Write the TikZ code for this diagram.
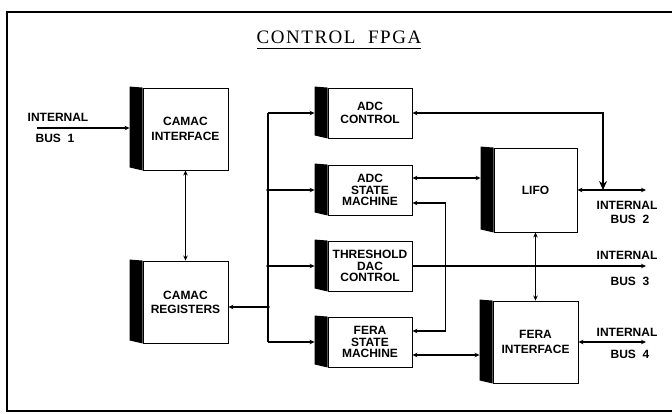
\documentclass[tikz,border=0pt]{standalone}
\usepackage{fontspec}
\setmainfont{Liberation Sans}
\newfontfamily\titlefont[LetterSpace=8]{Liberation Serif}
\usetikzlibrary{arrows.meta,calc}
\begin{document}
\begin{tikzpicture}[x=1pt,y=-1pt,
  blk/.style={draw,line width=0.9pt,fill=white,inner sep=0pt,align=center,
    font=\bfseries\fontsize{12}{14}\selectfont},
  tall/.style={blk,minimum width=85pt,minimum height=82pt},
  flat/.style={blk,minimum width=84pt,minimum height=50pt,font=\bfseries\fontsize{12}{11.5}\selectfont},
  conn/.style={line width=1.2pt},
  lbl/.style={font=\bfseries\fontsize{12}{14}\selectfont,inner sep=0pt},
  >={Stealth[length=5pt,width=4.5pt]}]
\useasboundingbox (0,0) rectangle (672,413);
% frame
\draw[line width=1.2pt] (672,12) -- (7,12) -- (7,411) -- (672,411);
% title
\node[font=\titlefont\fontsize{19}{20}\selectfont,inner sep=0pt,anchor=base] (title) at (339,43) {CONTROL\ \ FPGA};
\draw[line width=0.8pt] ([yshift=-5pt]title.base west) -- ([yshift=-5pt]title.base east);
% blocks
\node[tall] (ci) at (185.5,129) {CAMAC\\[1pt]INTERFACE};
\node[tall] (cr) at (185.5,302) {CAMAC\\REGISTERS};
\node[flat,font=\bfseries\fontsize{12}{13}\selectfont] (adcc) at (370,113) {ADC\\CONTROL};
\node[flat] (adcsm) at (370,190) {ADC\\STATE\\MACHINE};
\node[flat] (thr) at (370,266) {THRESHOLD\\DAC\\CONTROL};
\node[flat] (fsm) at (370,342) {FERA\\STATE\\MACHINE};
\node[tall,minimum width=83pt,minimum height=84pt] (lifo) at (535.5,190) {LIFO};
\node[tall] (fi) at (535.5,342) {FERA\\[1pt]INTERFACE};
\foreach \n in {ci,cr,adcc,adcsm,thr,fsm,lifo,fi}
  \fill ([shift={(-13,-1)}]\n.north west) -- (\n.north west) -- (\n.south west) -- ([shift={(-13,-3)}]\n.south west) -- cycle;
% bus coordinates
\coordinate (jt) at (268,113);
\coordinate (jb) at (268,342);
\coordinate (jr) at (268,307);
\coordinate (b1) at (37,128);
\coordinate (t2) at (603,190);
\coordinate (b2) at (646,190);
\coordinate (b3) at (646,266);
\coordinate (b4) at (646,342);
% connectors
\draw[conn,->] (b1) -- ([xshift=-13pt,yshift=1pt]ci.west);
\draw[conn,<->] (ci.south) -- (cr.north);
\draw[conn,<-] (cr.east |- jr) -- (jr);
\draw[conn] (jt) -- (jb);
\draw[conn,->] (jt) -- ([xshift=-13pt]adcc.west);
\draw[conn,->] (jt |- adcsm) -- ([xshift=-13pt]adcsm.west);
\draw[conn,->] (jt |- thr) -- ([xshift=-13pt]thr.west);
\draw[conn,->] (jb) -- ([xshift=-13pt]fsm.west);
\foreach \p in {(jt |- adcsm),(jt |- thr),(jr)} \fill \p circle (1.8pt);
\draw[conn,{Stealth[length=5pt,width=4.5pt]}-{Stealth[length=9pt,width=8pt]}] (adcc.east) -| (t2);
\draw[conn,<->] (lifo.east) -- (b2);
\draw[conn,<->] ([yshift=12pt]adcsm.east) -- ([xshift=-13pt,yshift=12pt]lifo.west);
\draw[conn,<->] ([yshift=-13pt]adcsm.east) -- ++(33,0) |- ([yshift=11pt]fsm.east);
\draw[conn,->] (thr.east) -- (b3);
\draw[conn,<->] ([yshift=-13pt]fsm.east) -- ([xshift=-13pt,yshift=-13pt]fi.west);
\draw[conn,<->] (lifo.south) -- (fi.north);
\draw[conn,<->] (fi.east) -- (b4);
% labels
\node[lbl] (l1a) at (58,117) {INTERNAL};
\node[lbl] (l1b) at (55,138) {BUS\ \ 1};
\node[lbl] (l2a) at (627,205) {INTERNAL};
\node[lbl] (l2b) at (630,219) {BUS\ \ 2};
\node[lbl] (l3a) at (627,255) {INTERNAL};
\node[lbl] (l3b) at (630,281) {BUS\ \ 3};
\node[lbl] (l4a) at (627,332) {INTERNAL};
\node[lbl] (l4b) at (630,354) {BUS\ \ 4};
\end{tikzpicture}
\end{document}
